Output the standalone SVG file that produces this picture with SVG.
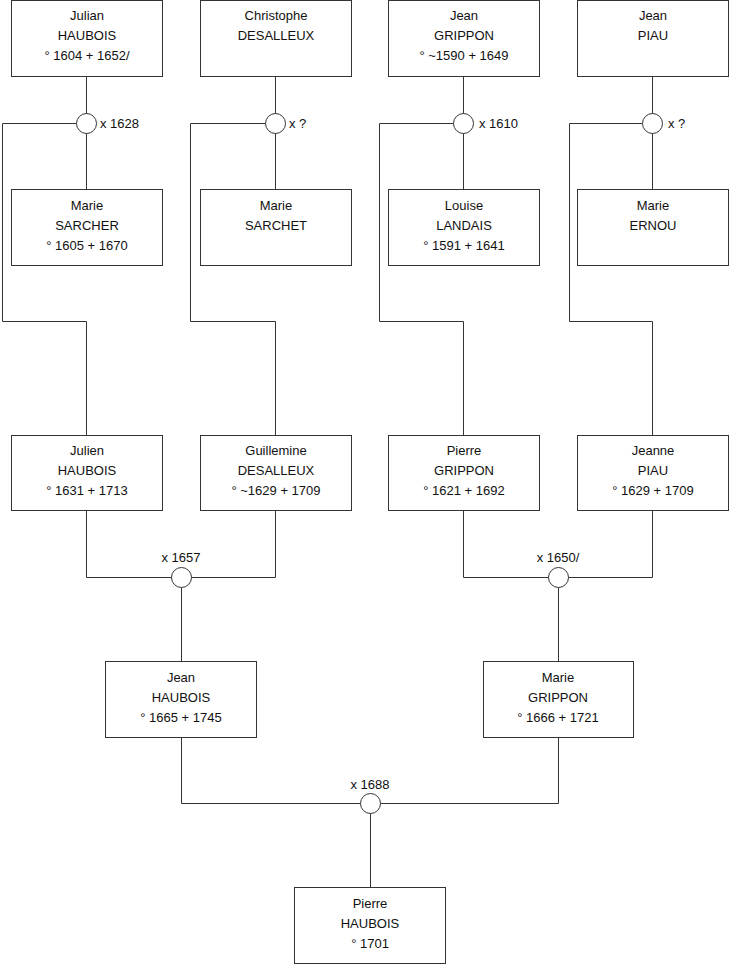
<svg xmlns="http://www.w3.org/2000/svg" width="740" height="975" viewBox="0 0 740 975">
<style>
rect.box{fill:#fff;stroke:#333;stroke-width:1}
circle.m{fill:#fff;stroke:#333;stroke-width:1}
.c path{fill:none;stroke:#333;stroke-width:1}
text{font-family:"Liberation Sans",Arial,sans-serif;font-size:13px;fill:#111}
text.n{text-anchor:middle}
text.mc{text-anchor:middle}
</style>
<rect width="740" height="975" fill="#fff"/>
<g class="c" id="connectors">
<path d="M86.5,76.5V189.5M2.5,123.5H76.5M2.5,123.5V321.5H86.5V435.5"/>
<path d="M275.5,76.5V189.5M190.5,123.5H265.5M190.5,123.5V321.5H275.5V435.5"/>
<path d="M463.5,76.5V189.5M379.5,123.5H453.5M379.5,123.5V321.5H463.5V435.5"/>
<path d="M652.5,76.5V189.5M569.5,123.5H642.5M569.5,123.5V321.5H652.5V435.5"/>
<path d="M86.5,510.5V577.5H275.5V510.5M181.5,587.5V661.5"/>
<path d="M463.5,510.5V577.5H652.5V510.5M558.5,587.5V661.5"/>
<path d="M181.5,737.5V803.5H558.5V737.5M370.5,813.5V887.5"/>
</g>
<g id="m1"><circle class="m" cx="86.5" cy="123.5" r="10"/><text x="100" y="128">x 1628</text></g>
<g id="m2"><circle class="m" cx="275.5" cy="123.5" r="10"/><text x="289" y="128">x ?</text></g>
<g id="m3"><circle class="m" cx="463.5" cy="123.5" r="10"/><text x="479" y="128">x 1610</text></g>
<g id="m4"><circle class="m" cx="652.5" cy="123.5" r="10"/><text x="668" y="128">x ?</text></g>
<g id="m5"><circle class="m" cx="181.5" cy="577.5" r="10"/><text class="mc" x="181" y="562">x 1657</text></g>
<g id="m6"><circle class="m" cx="558.5" cy="577.5" r="10"/><text class="mc" x="558" y="562">x 1650/</text></g>
<g id="m7"><circle class="m" cx="370.5" cy="803.5" r="10"/><text class="mc" x="370" y="789">x 1688</text></g>
<g id="p1"><rect class="box" x="11.5" y="0.5" width="151" height="76"/><text class="n" x="87" y="20">Julian</text><text class="n" x="87" y="40">HAUBOIS</text><text class="n" x="87" y="60">° 1604 + 1652/</text></g>
<g id="p2"><rect class="box" x="200.5" y="0.5" width="151" height="76"/><text class="n" x="276" y="20">Christophe</text><text class="n" x="276" y="40">DESALLEUX</text></g>
<g id="p3"><rect class="box" x="388.5" y="0.5" width="151" height="76"/><text class="n" x="464" y="20">Jean</text><text class="n" x="464" y="40">GRIPPON</text><text class="n" x="464" y="60">° ~1590 + 1649</text></g>
<g id="p4"><rect class="box" x="577.5" y="0.5" width="151" height="76"/><text class="n" x="653" y="20">Jean</text><text class="n" x="653" y="40">PIAU</text></g>
<g id="p5"><rect class="box" x="11.5" y="189.5" width="151" height="76"/><text class="n" x="87" y="210">Marie</text><text class="n" x="87" y="230">SARCHER</text><text class="n" x="87" y="250">° 1605 + 1670</text></g>
<g id="p6"><rect class="box" x="200.5" y="189.5" width="151" height="76"/><text class="n" x="276" y="210">Marie</text><text class="n" x="276" y="230">SARCHET</text></g>
<g id="p7"><rect class="box" x="388.5" y="189.5" width="151" height="76"/><text class="n" x="464" y="210">Louise</text><text class="n" x="464" y="230">LANDAIS</text><text class="n" x="464" y="250">° 1591 + 1641</text></g>
<g id="p8"><rect class="box" x="577.5" y="189.5" width="151" height="76"/><text class="n" x="653" y="210">Marie</text><text class="n" x="653" y="230">ERNOU</text></g>
<g id="p9"><rect class="box" x="11.5" y="435.5" width="151" height="75"/><text class="n" x="87" y="455">Julien</text><text class="n" x="87" y="475">HAUBOIS</text><text class="n" x="87" y="495">° 1631 + 1713</text></g>
<g id="p10"><rect class="box" x="200.5" y="435.5" width="151" height="75"/><text class="n" x="276" y="455">Guillemine</text><text class="n" x="276" y="475">DESALLEUX</text><text class="n" x="276" y="495">° ~1629 + 1709</text></g>
<g id="p11"><rect class="box" x="388.5" y="435.5" width="151" height="75"/><text class="n" x="464" y="455">Pierre</text><text class="n" x="464" y="475">GRIPPON</text><text class="n" x="464" y="495">° 1621 + 1692</text></g>
<g id="p12"><rect class="box" x="577.5" y="435.5" width="151" height="75"/><text class="n" x="653" y="455">Jeanne</text><text class="n" x="653" y="475">PIAU</text><text class="n" x="653" y="495">° 1629 + 1709</text></g>
<g id="p13"><rect class="box" x="105.5" y="661.5" width="151" height="76"/><text class="n" x="181" y="682">Jean</text><text class="n" x="181" y="702">HAUBOIS</text><text class="n" x="181" y="722">° 1665 + 1745</text></g>
<g id="p14"><rect class="box" x="483.5" y="661.5" width="150" height="76"/><text class="n" x="558" y="682">Marie</text><text class="n" x="558" y="702">GRIPPON</text><text class="n" x="558" y="722">° 1666 + 1721</text></g>
<g id="p15"><rect class="box" x="294.5" y="887.5" width="151" height="76"/><text class="n" x="370" y="908">Pierre</text><text class="n" x="370" y="928">HAUBOIS</text><text class="n" x="370" y="948">° 1701</text></g>
</svg>
